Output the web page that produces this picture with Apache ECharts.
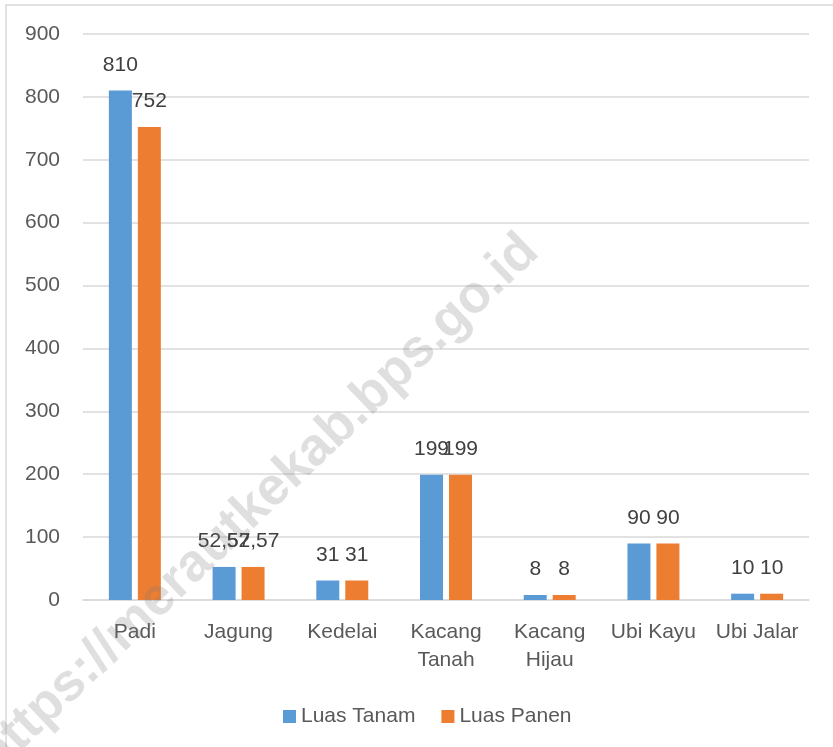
<!DOCTYPE html>
<html>
<head>
<meta charset="utf-8">
<script src="https://cdn.jsdelivr.net/npm/echarts@6/dist/echarts.min.js"></script>
<style>html,body{margin:0;padding:0;background:#fff}#c{width:833px;height:747px}</style>
</head>
<body>
<div id="c"></div>
<script>
const categories = ['Padi', 'Jagung', 'Kedelai', 'Kacang\nTanah', 'Kacang\nHijau', 'Ubi Kayu', 'Ubi Jalar'];
const luasTanam = [810, 52.57, 31, 199, 8, 90, 10];
const luasPanen = [752, 52.57, 31, 199, 8, 90, 10];
const seriesNames = ['Luas Tanam', 'Luas Panen'];
const yTicks = [0, 100, 200, 300, 400, 500, 600, 700, 800, 900];
const watermark = 'https://merautkekab.bps.go.id';

const FONT = '"Liberation Sans", Arial, sans-serif';
const chart = echarts.init(document.getElementById('c'), null, {renderer: 'canvas'});

const labelCfg = {
  show: true,
  position: 'top',
  distance: 15,
  color: '#404040',
  fontSize: 21,
  lineHeight: 21,
  fontFamily: FONT,
  formatter: p => String(p.value).replace('.', ',')
};

chart.setOption({
  animation: false,
  backgroundColor: '#fff',
  textStyle: {fontFamily: FONT},
  grid: {left: 83, right: 24, top: 34, bottom: 147, containLabel: false},
  legend: {
    data: seriesNames,
    left: 278,
    top: 701,
    icon: 'rect',
    itemWidth: 13,
    itemHeight: 13,
    itemGap: 26,
    textStyle: {color: '#595959', fontSize: 21, fontFamily: FONT}
  },
  xAxis: {
    type: 'category',
    data: categories,
    axisLine: {show: true, lineStyle: {color: '#d9d9d9', width: 1.5}},
    axisTick: {show: false},
    axisLabel: {color: '#595959', fontSize: 21, lineHeight: 28, margin: 18, fontFamily: FONT, interval: 0}
  },
  yAxis: {
    type: 'value',
    min: yTicks[0],
    max: yTicks[yTicks.length - 1],
    interval: 100,
    axisLine: {show: false},
    axisTick: {show: false},
    axisLabel: {color: '#595959', fontSize: 21, margin: 23, fontFamily: FONT},
    splitLine: {lineStyle: {color: '#d9d9d9', width: 1.5}}
  },
  series: [
    {
      name: seriesNames[0], type: 'bar', data: luasTanam,
      barWidth: 23, barGap: '26%',
      itemStyle: {color: '#5b9bd5'},
      label: labelCfg
    },
    {
      name: seriesNames[1], type: 'bar', data: luasPanen,
      barWidth: 23,
      itemStyle: {color: '#ed7d31'},
      label: labelCfg
    }
  ],
  graphic: [
    {
      type: 'rect', z: 0, silent: true,
      shape: {x: 6, y: 5, width: 840, height: 760},
      style: {fill: 'none', stroke: '#d9d9d9', lineWidth: 1.5}
    },
    {
      type: 'text', z: 100, silent: true,
      x: 258, y: 504, rotation: 0.763,
      style: {
        text: watermark,
        x: 0, y: 0,
        align: 'center', verticalAlign: 'middle',
        textAlign: 'center', textVerticalAlign: 'middle',
        font: 'bold 53px "Liberation Sans", Arial, sans-serif',
        fill: 'rgba(120,120,120,0.24)'
      }
    }
  ]
});
</script>
</body>
</html>
